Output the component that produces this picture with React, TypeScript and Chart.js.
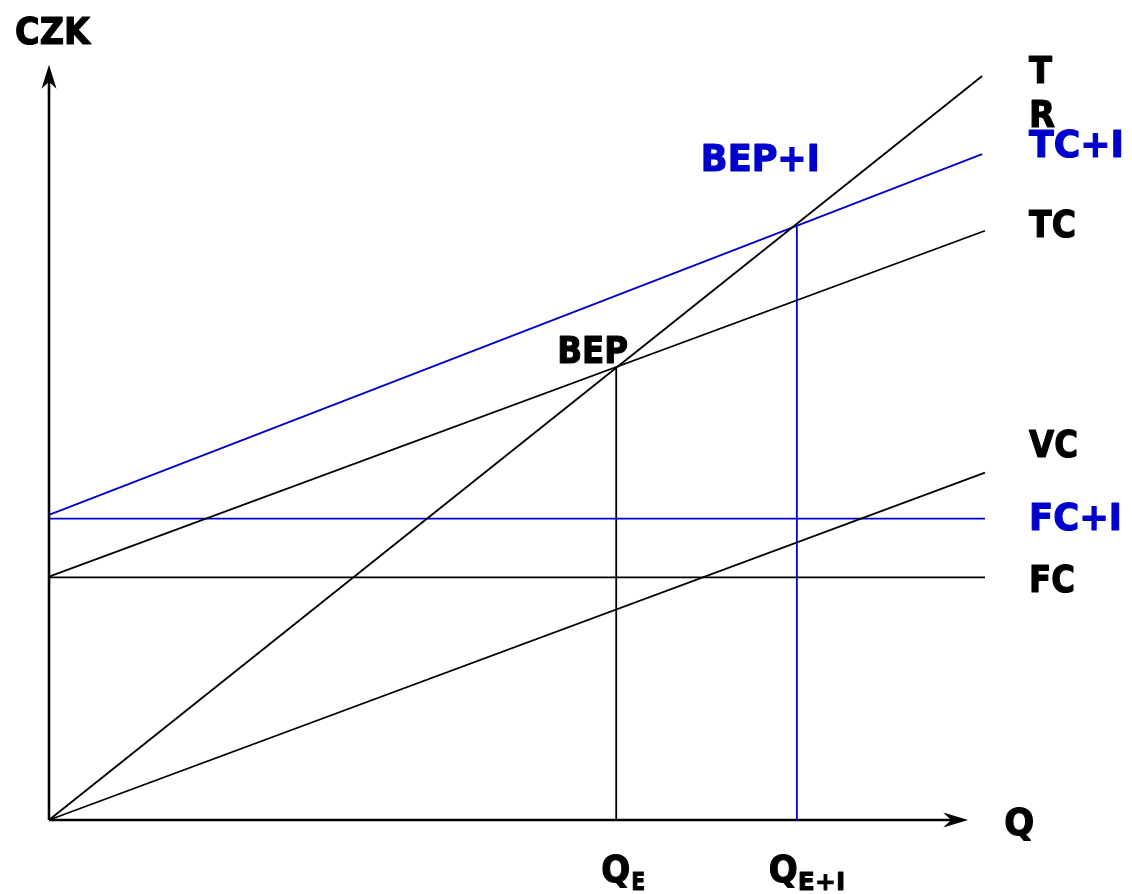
import React, { useEffect, useRef } from "react";
import { Chart, registerables } from "chart.js";

Chart.register(...registerables);

// ---- data (Q on x, CZK on y) ----
const Q_RANGE = [0, 100];
const CZK_RANGE = [0, 100];
const TR_X = [0, 99.7];
const TR_Y = [0, 100];
const TCI_X = [0, 99.7];
const TCI_Y = [41.0, 89.5];
const TC_X = [0, 100];
const TC_Y = [32.7, 79.2];
const VC_X = [0, 100];
const VC_Y = [0, 46.7];
const FC_X = [0, 100];
const FC_Y = [32.6, 32.6];
const FCI_X = [0, 100];
const FCI_Y = [40.5, 40.5];
const BEP = [60.6, 60.8];
const BEPI = [79.9, 79.8];
const AXIS_X_END = 98.2;
const AXIS_Y_END = 101.5;

const BLACK = "#000000";
const BLUE = "#0000cc";
const FONT = "'DejaVu Sans', Verdana, sans-serif";

const pts = (xs: number[], ys: number[]) => xs.map((x, i) => ({ x, y: ys[i] }));

function lineDs(data: { x: number; y: number }[], color: string, width = 1.8) {
  return {
    data,
    borderColor: color,
    borderWidth: width,
    pointRadius: 0,
    showLine: true,
    fill: false,
    tension: 0,
    clip: false as any,
  };
}

const labelPlugin = {
  id: "labels",
  afterDatasetsDraw(chart: any) {
    const ctx = chart.ctx as CanvasRenderingContext2D;
    const xs = chart.scales.x;
    const ys = chart.scales.y;
    const px = (v: number) => xs.getPixelForValue(v);
    const py = (v: number) => ys.getPixelForValue(v);

    // arrowheads
    const arrow = (tx: number, ty: number, dir: "up" | "right") => {
      ctx.save();
      ctx.fillStyle = BLACK;
      ctx.beginPath();
      if (dir === "up") {
        ctx.moveTo(tx, ty);
        ctx.lineTo(tx - 7.5, ty + 24);
        ctx.lineTo(tx, ty + 17);
        ctx.lineTo(tx + 7.5, ty + 24);
      } else {
        ctx.moveTo(tx, ty);
        ctx.lineTo(tx - 25, ty - 7.5);
        ctx.lineTo(tx - 17, ty);
        ctx.lineTo(tx - 25, ty + 7.5);
      }
      ctx.closePath();
      ctx.fill();
      ctx.restore();
    };
    arrow(px(0), py(AXIS_Y_END), "up");
    arrow(px(AXIS_X_END), py(0), "right");

    const txt = (s: string, x: number, y: number, color: string, size: number, w: number) => {
      ctx.save();
      ctx.font = `bold ${size}px ${FONT}`;
      ctx.fillStyle = color;
      ctx.strokeStyle = color;
      ctx.lineWidth = size > 30 ? 1.2 : 0.9;
      ctx.lineJoin = "round";
      ctx.textBaseline = "alphabetic";
      ctx.textAlign = "left";
      ctx.fillText(s, x, y, w);
      ctx.strokeText(s, x, y, w);
      ctx.restore();
    };

    const big = 37;
    const small = 25;
    const rx = px(100) + 44;
    txt("CZK", px(0) - 34, py(AXIS_Y_END) - 21, BLACK, big, 75);
    txt("T", rx, py(TR_Y[1]) + 7, BLACK, big, 23);
    txt("R", rx, py(TR_Y[1]) + 51, BLACK, big, 26);
    txt("TC+I", rx, py(TCI_Y[1]) + 3, BLUE, big, 95);
    txt("TC", rx, py(TC_Y[1]) + 6, BLACK, big, 47);
    txt("VC", rx, py(VC_Y[1]) - 16, BLACK, big, 49);
    txt("FC+I", rx, py(FCI_Y[1]) + 11, BLUE, big, 93);
    txt("FC", rx, py(FC_Y[1]) + 14.5, BLACK, big, 46);
    txt("Q", px(AXIS_X_END) + 36, py(0) + 15, BLACK, big, 30);
    txt("BEP", px(BEP[0]) - 59, py(BEP[1]) - 5, BLACK, big, 71);
    txt("BEP+I", px(BEPI[0]) - 96, py(BEPI[1]) - 55, BLUE, big, 119);
    txt("Q", px(BEP[0]) - 15, py(0) + 62, BLACK, big, 29);
    txt("E", px(BEP[0]) + 15, py(0) + 70, BLACK, small, 14);
    txt("Q", px(BEPI[0]) - 28, py(0) + 62, BLACK, big, 29);
    txt("E+I", px(BEPI[0]) + 1, py(0) + 70, BLACK, small, 48);
  },
};

export default function App() {
  const ref = useRef<HTMLCanvasElement | null>(null);
  useEffect(() => {
    if (!ref.current) return;
    const chart = new Chart(ref.current, {
      type: "scatter",
      data: {
        datasets: [
          lineDs(pts(TR_X, TR_Y), BLACK),
          lineDs(pts(TCI_X, TCI_Y), BLUE),
          lineDs(pts(TC_X, TC_Y), BLACK),
          lineDs(pts(VC_X, VC_Y), BLACK),
          lineDs(pts(FC_X, FC_Y), BLACK),
          lineDs(pts(FCI_X, FCI_Y), BLUE),
          lineDs(pts([BEP[0], BEP[0]], [0, BEP[1]]), BLACK),
          lineDs(pts([BEPI[0], BEPI[0]], [0, BEPI[1]]), BLUE),
          lineDs(pts([0, 0], [0, AXIS_Y_END - 2]), BLACK, 2.6),
          lineDs(pts([0, AXIS_X_END - 1.5], [0, 0]), BLACK, 2.6),
        ] as any,
      },
      options: {
        animation: false,
        responsive: false,
        events: [],
        layout: { padding: { left: 49, right: 147, top: 76, bottom: 74 } },
        plugins: { legend: { display: false }, tooltip: { enabled: false } },
        scales: {
          x: { type: "linear", min: Q_RANGE[0], max: Q_RANGE[1], display: false },
          y: { type: "linear", min: CZK_RANGE[0], max: CZK_RANGE[1], display: false },
        },
      },
      plugins: [labelPlugin],
    });
    return () => chart.destroy();
  }, []);
  return (
    <div style={{ position: "absolute", left: 0, top: 0, width: 1132, height: 894, background: "#fff" }}>
      <canvas ref={ref} width={1132} height={894} />
    </div>
  );
}
